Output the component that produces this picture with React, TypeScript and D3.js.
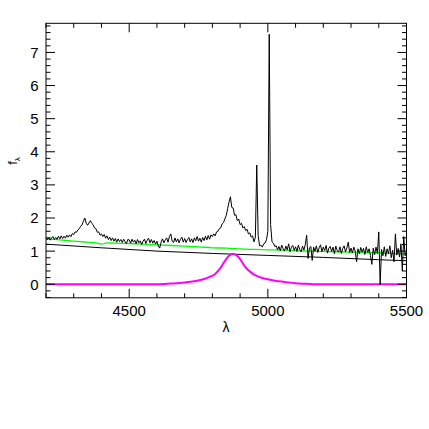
import React from 'react';
import * as d3 from 'd3';

// observed spectrum, 5 A sampling starting at 4200 A
const waveStart = 4200;
const waveStep = 5;
const flux = [
  // 4200-4280
  1.42, 1.34, 1.40, 1.33, 1.39, 1.44, 1.35, 1.41, 1.36, 1.45, 1.37, 1.46, 1.38, 1.45, 1.39, 1.48, 1.42,
  // 4285-4495 (H-gamma)
  1.49, 1.44, 1.53, 1.50, 1.58, 1.57, 1.64, 1.68, 1.75, 1.79, 1.90, 2.00, 1.84, 1.78, 1.85, 1.92, 1.84,
  1.80, 1.70, 1.68, 1.57, 1.58, 1.48, 1.52, 1.44, 1.50, 1.39, 1.46, 1.35, 1.42, 1.32, 1.40, 1.30, 1.38,
  1.27, 1.37, 1.29, 1.35, 1.26, 1.36, 1.28, 1.23, 1.35,
  // 4500-4795
  1.34, 1.24, 1.36, 1.27, 1.33, 1.22, 1.35, 1.25, 1.31, 1.20, 1.30, 1.36, 1.23, 1.33, 1.39, 1.25, 1.35,
  1.24, 1.32, 1.21, 1.30, 1.16, 1.09, 1.27, 1.37, 1.25, 1.34, 1.40, 1.27, 1.44, 1.52, 1.30, 1.26, 1.40,
  1.28, 1.37, 1.25, 1.36, 1.42, 1.27, 1.38, 1.26, 1.35, 1.41, 1.28, 1.37, 1.26, 1.40, 1.31, 1.44, 1.30,
  1.39, 1.27, 1.41, 1.32, 1.45, 1.34, 1.47, 1.36, 1.49,
  // 4800-4995 (H-beta, [OIII] 4959)
  1.44, 1.52, 1.46, 1.58, 1.60, 1.68, 1.70, 1.82, 1.86, 1.97, 2.08, 2.28, 2.48, 2.64, 2.32, 2.30, 2.08,
  2.10, 1.92, 1.97, 1.80, 1.84, 1.70, 1.74, 1.62, 1.66, 1.52, 1.55, 1.42, 1.46, 1.28, 1.42, 3.60, 1.48,
  1.16, 1.18, 1.12, 1.22, 1.24, 1.34,
  // 5000-5025 ([OIII] 5007)
  1.60, 7.55, 1.80, 1.28, 1.24, 1.14,
  // 5030-5500
  1.16, 1.04, 1.14, 1.01, 1.18, 1.07, 1.00, 1.15, 1.04, 1.22, 0.98, 1.12, 1.17, 1.02, 1.13, 0.99, 1.18,
  1.05, 0.98, 1.15, 1.03, 1.20, 1.48, 0.78, 1.10, 1.14, 0.72, 1.12, 1.00, 1.16, 0.96, 1.10, 1.19, 0.98,
  1.12, 1.02, 1.17, 0.94, 1.09, 1.14, 0.99, 1.12, 0.92, 1.15, 1.02, 0.97, 1.13, 0.93, 1.08, 1.16, 0.98,
  1.10, 1.27, 0.96, 1.09, 0.94, 1.12, 1.00, 0.68, 1.07, 0.92, 1.11, 0.97, 1.08, 0.90, 1.13, 0.95, 1.07,
  0.87, 0.60, 1.09, 0.89, 1.12, 0.93, 1.58, -0.02, 1.05, 0.86, 1.13, 0.84, 1.07, 0.92, 1.16, 0.80, 1.03,
  0.68, 1.52, 0.88, 1.08, 0.82, 1.22, 0.40, 1.44, 0.86, 1.00,
];

// host / template model (green)
const modelWave = [4200, 4250, 4300, 4350, 4380, 4400, 4420, 4450, 4500, 4550, 4600, 4650, 4700, 4750, 4800,
  4850, 4900, 4950, 5000, 5050, 5100, 5150, 5200, 5250, 5300, 5350, 5400, 5450, 5500];
const modelFlux = [1.37, 1.34, 1.30, 1.27, 1.25, 1.21, 1.25, 1.24, 1.23, 1.21, 1.19, 1.17, 1.15, 1.13, 1.10,
  1.09, 1.07, 1.05, 1.04, 1.03, 1.01, 1.00, 0.99, 0.98, 0.97, 0.96, 0.95, 0.93, 0.92];

// power-law continuum (black)
const contWave = [4200, 4400, 4600, 4800, 5000, 5200, 5400, 5500];
const contFlux = [1.21, 1.10, 1.00, 0.93, 0.87, 0.81, 0.74, 0.71];

// broad H-beta component (magenta)
const broadWave = [4200, 4600, 4650, 4700, 4740, 4770, 4790, 4810, 4830, 4845, 4860, 4875, 4890, 4900, 4915,
  4930, 4945, 4960, 4980, 5000, 5030, 5060, 5100, 5150, 5200, 5500];
const broadFlux = [0, 0, 0.02, 0.05, 0.10, 0.16, 0.22, 0.31, 0.50, 0.70, 0.86, 0.92, 0.85, 0.76, 0.56,
  0.42, 0.32, 0.25, 0.19, 0.15, 0.10, 0.07, 0.03, 0.01, 0, 0];

const xTickLabels = [4500, 5000, 5500];
const yTickLabels = [0, 1, 2, 3, 4, 5, 6, 7];

const W = 429, H = 429;
const left = 46, right = 406.5, top = 23.3, bottom = 297.8;

export default function App() {
  const x = d3.scaleLinear().domain([4200, 5500]).range([left, right]);
  const y = d3.scaleLinear().domain([-0.41, 7.88]).range([bottom, top]);

  const line = d3.line<[number, number]>().x(d => x(d[0])).y(d => y(d[1]));
  const smooth = d3.line<[number, number]>().x(d => x(d[0])).y(d => y(d[1])).curve(d3.curveMonotoneX);

  const spec: [number, number][] = flux.map((f, i) => [waveStart + i * waveStep, f]);
  const model: [number, number][] = modelWave.map((w, i) => [w, modelFlux[i]]);
  const cont: [number, number][] = contWave.map((w, i) => [w, contFlux[i]]);
  const broad: [number, number][] = broadWave.map((w, i) => [w, broadFlux[i]]);

  const xMinor = d3.range(4200, 5501, 100);
  const yMinor = d3.range(-0.4, 7.81, 0.2);
  const font = "'Liberation Sans', Arial, Helvetica, sans-serif";

  return (
    <svg width={W} height={H} style={{ position: 'absolute', left: 0, top: 0, background: '#fff' }}>
      <defs>
        <clipPath id="plot">
          <rect x={left} y={top} width={right - left} height={bottom - top} />
        </clipPath>
      </defs>
      <g clipPath="url(#plot)" fill="none">
        <path d={line(cont) || ''} stroke="#000" strokeWidth={1} />
        <path d={smooth(model) || ''} stroke="#00ff00" strokeWidth={1.3} />
        <path d={smooth(broad) || ''} stroke="#ff00ff" strokeWidth={2} />
        <path d={line(spec) || ''} stroke="#000" strokeWidth={1} strokeLinejoin="round" />
      </g>

      {/* ticks on all four sides, pointing in */}
      <g stroke="#000" strokeWidth={1}>
        {xMinor.map(v => {
          const major = v % 500 === 0;
          const len = major ? 9 : 4.5;
          return (
            <g key={'x' + v}>
              <line x1={x(v)} x2={x(v)} y1={bottom} y2={bottom - len} />
              <line x1={x(v)} x2={x(v)} y1={top} y2={top + len} />
            </g>
          );
        })}
        {yMinor.map(v => {
          const major = Math.abs(v - Math.round(v)) < 1e-6;
          const len = major ? 9 : 4.5;
          return (
            <g key={'y' + v.toFixed(1)}>
              <line x1={left} x2={left + len} y1={y(v)} y2={y(v)} />
              <line x1={right} x2={right - len} y1={y(v)} y2={y(v)} />
            </g>
          );
        })}
      </g>
      <rect x={left} y={top} width={right - left} height={bottom - top} fill="none" stroke="#000" strokeWidth={1} />

      <g fontFamily={font} fontSize={15} fill="#000">
        {xTickLabels.map(v => (
          <text key={v} x={x(v)} y={316.3} textAnchor="middle">{v}</text>
        ))}
        {yTickLabels.map(v => (
          <text key={v} x={38.5} y={y(v)} dy="0.36em" textAnchor="end">{v}</text>
        ))}
        <text x={226} y={332} textAnchor="middle" fontSize={14}>λ</text>
        <text transform="translate(16.5,161) rotate(-90)" textAnchor="middle" fontSize={13}>
          f<tspan fontSize={8} dy={3}>λ</tspan>
        </text>
      </g>
    </svg>
  );
}
